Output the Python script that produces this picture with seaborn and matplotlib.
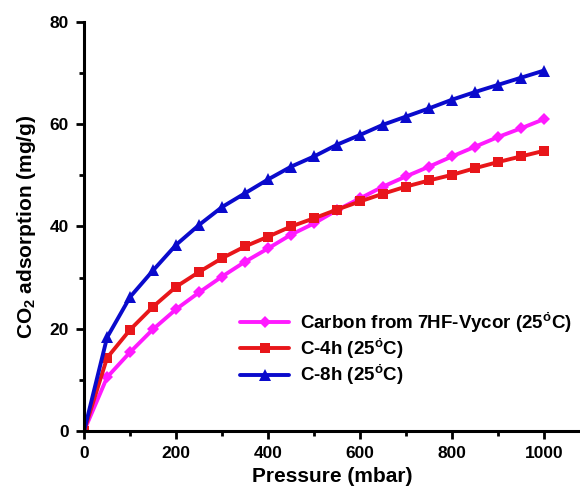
"""CO2 adsorption isotherms at 25 C."""

import numpy as np
import pandas as pd
import matplotlib
matplotlib.use("Agg")
import matplotlib.pyplot as plt
import seaborn as sns
from matplotlib.ticker import MultipleLocator

pressure = [0, 50, 100, 150, 200, 250, 300, 350, 400, 450, 500,
            550, 600, 650, 700, 750, 800, 850, 900, 950, 1000]

vycor = [0, 10.5, 15.4, 19.9, 23.8, 27.1, 30.2, 33.1, 35.7, 38.4, 40.6,
         43.2, 45.5, 47.8, 49.8, 51.7, 53.7, 55.6, 57.5, 59.2, 61.0]
c4h = [0, 14.3, 19.8, 24.3, 28.2, 31.1, 33.8, 36.1, 38.0, 40.0, 41.6,
       43.3, 44.9, 46.4, 47.8, 49.0, 50.1, 51.4, 52.6, 53.7, 54.8]
c8h = [0, 18.3, 26.2, 31.4, 36.4, 40.3, 43.8, 46.5, 49.2, 51.7, 53.7,
       56.0, 57.9, 59.9, 61.5, 63.1, 64.8, 66.3, 67.7, 69.1, 70.5]

names = [r"Carbon from 7HF-Vycor (25$^{\dot{o}}$C)",
         r"C-4h (25$^{\dot{o}}$C)",
         r"C-8h (25$^{\dot{o}}$C)"]

df = pd.DataFrame({
    "pressure": pressure * 3,
    "uptake": vycor + c4h + c8h,
    "sample": np.repeat(names, len(pressure)),
})

sns.set_style("ticks", {"text.color": "black", "axes.labelcolor": "black",
                        "xtick.color": "black", "ytick.color": "black",
                        "axes.edgecolor": "black"})
plt.rcParams["font.family"] = ["Liberation Sans", "DejaVu Sans"]
plt.rcParams["font.weight"] = "bold"
plt.rcParams["mathtext.fontset"] = "custom"
plt.rcParams["mathtext.rm"] = "Liberation Sans:bold"
plt.rcParams["mathtext.it"] = "Liberation Sans:bold"
plt.rcParams["mathtext.bf"] = "Liberation Sans:bold"

fig = plt.figure(figsize=(5.8, 4.88), dpi=100)
ax = fig.add_axes([0.145, 0.117, 0.855, 0.838])

palette = {names[0]: "#ff1aff", names[1]: "#e8161a", names[2]: "#0a0acc"}
markers = {names[0]: "D", names[1]: "s", names[2]: "^"}
sizes = {names[0]: 6, names[1]: 6.5, names[2]: 8}

for name in names:
    sub = df[df["sample"] == name]
    sns.lineplot(data=sub, x="pressure", y="uptake", ax=ax, color=palette[name],
                 marker=markers[name], markersize=sizes[name], markeredgewidth=0,
                 linewidth=2.8, label=name)

ax.set_xlim(0, 1078)
ax.set_ylim(0, 80)
ax.xaxis.set_major_locator(MultipleLocator(200))
ax.xaxis.set_minor_locator(MultipleLocator(100))
ax.yaxis.set_major_locator(MultipleLocator(20))
ax.yaxis.set_minor_locator(MultipleLocator(10))
ax.tick_params(which="major", direction="out", length=6, width=2, labelsize=12.5,
               pad=5, colors="black")
ax.tick_params(which="minor", direction="out", length=3.5, width=2, colors="black")
for lbl in ax.get_xticklabels() + ax.get_yticklabels():
    lbl.set_fontweight("bold")

sns.despine(ax=ax)
for side in ["left", "bottom"]:
    ax.spines[side].set_linewidth(2.2)
    ax.spines[side].set_color("black")

ax.set_xlabel("Pressure (mbar)", fontsize=15, fontweight="bold", labelpad=4, color="black")
ax.set_ylabel(r"CO$_2$ adsorption (mg/g)", fontsize=15, fontweight="bold", labelpad=8,
              color="black")

leg = ax.legend(loc="lower left", bbox_to_anchor=(0.3, 0.088), frameon=False,
                fontsize=13.5, handlelength=2.6, handletextpad=0.6, labelspacing=0.08,
                borderaxespad=0)
for t in leg.get_texts():
    t.set_fontweight("bold")
    t.set_color("black")

fig.savefig("out.png", dpi=100)
